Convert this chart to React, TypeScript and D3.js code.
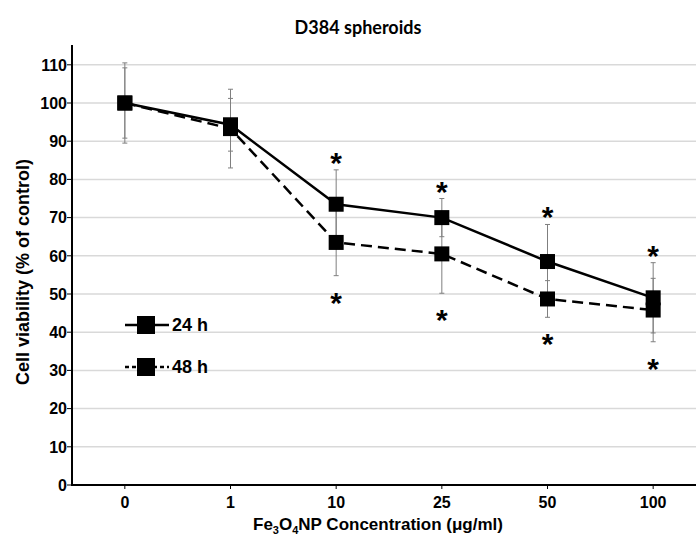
import React from "react";
import * as d3 from "d3";

const categories = ["0", "1", "10", "25", "50", "100"];
const yTicks = [0, 10, 20, 30, 40, 50, 60, 70, 80, 90, 100, 110];
const mean24 = [100, 94.3, 73.5, 70, 58.5, 49];
const err24 = [9.2, 6.9, 9, 5, 9.7, 9.2];
const mean48 = [100, 93.3, 63.5, 60.5, 48.7, 45.8];
const err48 = [10.5, 10.3, 8.7, 10.3, 4.8, 8.3];
const sig24 = [false, false, true, true, true, true];
const sig48 = [false, false, true, true, true, true];

const W = 696;
const H = 536;
const left = 72;
const bottom = 485;
const top = 45;

export default function App() {
  const x = d3.scalePoint<string>().domain(categories).range([left, 706]).padding(0.5);
  const y = d3.scaleLinear().domain([0, 115]).range([bottom, top + 0.7]);
  const line = d3
    .line<number>()
    .x((_, i) => x(categories[i]) as number)
    .y((d) => y(d));
  const arial = "'Liberation Sans', Arial, sans-serif";
  const ms = 15;
  const series = [
    { mean: mean24, err: err24, dash: undefined as string | undefined },
    { mean: mean48, err: err48, dash: "11,6" },
  ];
  return (
    <svg width={W} height={H} style={{ position: "absolute", left: 0, top: 0, background: "#fff" }}>
      <rect width={W} height={H} fill="#fff" />
      <text x={358} y={34} textAnchor="middle" fontFamily="Lato, sans-serif" fontWeight="bold" fontSize={18}>
        D384 spheroids
      </text>
      {yTicks.filter((t) => t > 0).map((t) => (
        <line key={"g" + t} x1={left} x2={W} y1={y(t)} y2={y(t)} stroke="#d9d9d9" strokeWidth={1.5} />
      ))}
      {yTicks.map((t) => (
        <g key={"yt" + t}>
          <line x1={left - 5} x2={left} y1={y(t)} y2={y(t)} stroke="#000" strokeWidth={1} />
          <text x={left - 5} y={y(t)} dy="0.36em" textAnchor="end" fontFamily={arial} fontWeight="bold" fontSize={16}>
            {t}
          </text>
        </g>
      ))}
      {categories.map((c) => (
        <g key={"xt" + c}>
          <line x1={x(c)} x2={x(c)} y1={bottom} y2={bottom + 4} stroke="#000" strokeWidth={1} />
          <text x={x(c)} y={508} textAnchor="middle" fontFamily={arial} fontWeight="bold" fontSize={16}>
            {c}
          </text>
        </g>
      ))}
      <line x1={left} x2={left} y1={top} y2={bottom + 1} stroke="#000" strokeWidth={2} />
      <line x1={left - 1} x2={W} y1={bottom} y2={bottom} stroke="#000" strokeWidth={2} />
      <text
        transform={`translate(29,${272}) rotate(-90)`}
        textAnchor="middle"
        fontFamily={arial}
        fontWeight="bold"
        fontSize={18}
      >
        Cell viability (% of control)
      </text>
      <text x={378} y={530} textAnchor="middle" fontFamily={arial} fontWeight="bold" fontSize={17}>
        Fe
        <tspan fontSize={11} dy={4}>3</tspan>
        <tspan dy={-4}>O</tspan>
        <tspan fontSize={11} dy={4}>4</tspan>
        <tspan dy={-4}>NP Concentration (μg/ml)</tspan>
      </text>
      {series.map((s, si) =>
        s.mean.map((m, i) => {
          const cx = x(categories[i]) as number;
          return (
            <g key={"e" + si + i} stroke="#7f7f7f" strokeWidth={1}>
              <line x1={cx} x2={cx} y1={y(m + s.err[i])} y2={y(m - s.err[i])} />
              <line x1={cx - 2.5} x2={cx + 2.5} y1={y(m + s.err[i])} y2={y(m + s.err[i])} />
              <line x1={cx - 2.5} x2={cx + 2.5} y1={y(m - s.err[i])} y2={y(m - s.err[i])} />
            </g>
          );
        })
      )}
      {series.map((s, si) => (
        <path key={"l" + si} d={line(s.mean) || ""} fill="none" stroke="#000" strokeWidth={2.5} strokeDasharray={s.dash} />
      ))}
      {series.map((s, si) =>
        s.mean.map((m, i) => (
          <rect
            key={"m" + si + i}
            x={(x(categories[i]) as number) - ms / 2}
            y={y(m) - ms / 2}
            width={ms}
            height={ms}
            fill="#000"
          />
        ))
      )}
      {sig24.map((s, i) =>
        s ? (
          <text key={"s24" + i} x={x(categories[i])} y={y(mean24[i] + err24[i]) + 3} textAnchor="middle" fontFamily={arial} fontWeight="bold" fontSize={30}>
            *
          </text>
        ) : null
      )}
      {sig48.map((s, i) =>
        s ? (
          <text key={"s48" + i} x={x(categories[i])} y={y(mean48[i] - err48[i]) + 37} textAnchor="middle" fontFamily={arial} fontWeight="bold" fontSize={30}>
            *
          </text>
        ) : null
      )}
      <g>
        <line x1={125} x2={169} y1={325} y2={325} stroke="#000" strokeWidth={2.5} />
        <rect x={137} y={316} width={18} height={18} fill="#000" />
        <text x={172} y={331} fontFamily={arial} fontWeight="bold" fontSize={18}>24 h</text>
        <line x1={125} x2={169} y1={367} y2={367} stroke="#000" strokeWidth={2.5} strokeDasharray="4,3" />
        <rect x={137} y={358} width={18} height={18} fill="#000" />
        <text x={172} y={373} fontFamily={arial} fontWeight="bold" fontSize={18}>48 h</text>
      </g>
    </svg>
  );
}
